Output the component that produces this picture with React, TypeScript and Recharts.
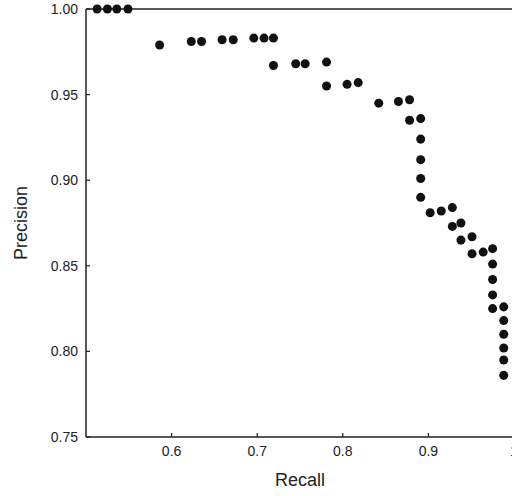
import { ScatterChart, Scatter, XAxis, YAxis, ZAxis, ReferenceLine } from 'recharts';

// recall / precision pairs
const recall = [
  0.513, 0.525, 0.536, 0.549,
  0.586, 0.623, 0.635, 0.659, 0.672, 0.696, 0.708, 0.719,
  0.719, 0.745, 0.756, 0.781, 0.781, 0.805, 0.818,
  0.842, 0.865, 0.878, 0.878, 0.891, 0.891, 0.891, 0.891, 0.891,
  0.902, 0.915, 0.928, 0.928, 0.938, 0.938, 0.951, 0.951, 0.964, 0.975,
  0.975, 0.975, 0.975, 0.975,
  0.988, 0.988, 0.988, 0.988, 0.988, 0.988,
];
const precision = [
  1.0, 1.0, 1.0, 1.0,
  0.979, 0.981, 0.981, 0.982, 0.982, 0.983, 0.983, 0.983,
  0.967, 0.968, 0.968, 0.969, 0.955, 0.956, 0.957,
  0.945, 0.946, 0.947, 0.935, 0.936, 0.924, 0.912, 0.901, 0.890,
  0.881, 0.882, 0.884, 0.873, 0.875, 0.865, 0.867, 0.857, 0.858, 0.860,
  0.851, 0.842, 0.833, 0.825,
  0.826, 0.818, 0.810, 0.802, 0.795, 0.786,
];
const xTicks = [0.6, 0.7, 0.8, 0.9, 1];
const yTicks = [0.75, 0.8, 0.85, 0.9, 0.95, 1.0];

const points = recall.map((r, i) => ({ recall: r, precision: precision[i] }));

const axisColor = '#222';
const tickStyle = { fill: '#222', fontSize: 14, fontFamily: '"Liberation Sans", Arial, sans-serif' };
const labelStyle = { fill: '#222', fontSize: 18, fontFamily: '"Liberation Sans", Arial, sans-serif' };

export default function App() {
  return (
    <div style={{ position: 'absolute', left: 0, top: 0, width: 512, height: 496, overflow: 'hidden', background: '#fff' }}>
      <ScatterChart width={530} height={496} margin={{ top: 9, right: 16, bottom: 0, left: 0 }}>
        <XAxis
          type="number"
          dataKey="recall"
          domain={[0.5, 1]}
          ticks={xTicks}
          tickFormatter={(v) => (v === 1 ? '1' : v.toFixed(1))}
          height={59}
          tickSize={-4}
          tickMargin={13}
          tick={tickStyle}
          stroke={axisColor}
          axisLine={{ stroke: axisColor, strokeWidth: 1.5 }}
          tickLine={{ stroke: axisColor, strokeWidth: 1.2 }}
          label={{ value: 'Recall', position: 'insideBottom', offset: 10, style: labelStyle }}
        />
        <YAxis
          type="number"
          dataKey="precision"
          domain={[0.75, 1]}
          ticks={yTicks}
          tickFormatter={(v) => v.toFixed(2)}
          width={86}
          tickSize={-4}
          tickMargin={12}
          tick={tickStyle}
          stroke={axisColor}
          axisLine={{ stroke: axisColor, strokeWidth: 1.5 }}
          tickLine={{ stroke: axisColor, strokeWidth: 1.2 }}
          label={{ value: 'Precision', angle: -90, position: 'insideLeft', offset: 21, style: { ...labelStyle, textAnchor: 'middle' } }}
        />
        <ZAxis range={[56, 56]} />
        <ReferenceLine y={1} stroke={axisColor} strokeWidth={1.5} />
        <Scatter data={points} fill="#111" isAnimationActive={false} />
      </ScatterChart>
    </div>
  );
}
